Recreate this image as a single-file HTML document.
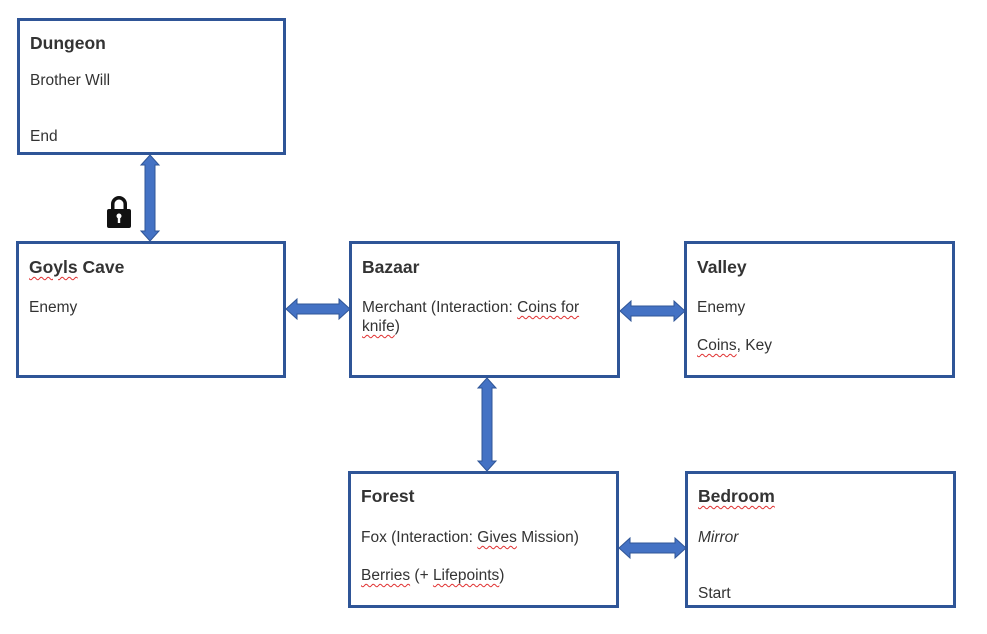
<!DOCTYPE html>
<html><head><style>
body{margin:0;width:987px;height:634px;background:#fff;position:relative;font-family:"Liberation Sans",Arial,sans-serif;color:#333;overflow:hidden}
.b{position:absolute;border:3px solid #2F5597;box-sizing:border-box;background:#fff}
.t{position:absolute;left:10px;font-weight:bold;font-size:17.5px}
.p{position:absolute;left:10px;font-size:15.5px;line-height:19px}
.sq{text-decoration:underline wavy #e03030;text-decoration-thickness:1px;text-underline-offset:3px}
svg{position:absolute;left:0;top:0}
</style></head><body>
<div class="b" style="left:17px;top:18px;width:269px;height:137px"><div class="t" style="top:12px">Dungeon</div><div class="p" style="top:50px">Brother Will</div><div class="p" style="top:106px">End</div></div>
<div class="b" style="left:16px;top:241px;width:270px;height:137px"><div class="t" style="top:13px"><span class="sq">Goyls</span> Cave</div><div class="p" style="top:54px">Enemy</div></div>
<div class="b" style="left:349px;top:241px;width:271px;height:137px"><div class="t" style="top:13px">Bazaar</div><div class="p" style="top:54px">Merchant (Interaction: <span class="sq">Coins for</span><br><span class="sq">knife</span>)</div></div>
<div class="b" style="left:684px;top:241px;width:271px;height:137px"><div class="t" style="top:13px">Valley</div><div class="p" style="top:54px">Enemy</div><div class="p" style="top:92px"><span class="sq">Coins</span>, Key</div></div>
<div class="b" style="left:348px;top:471px;width:271px;height:137px"><div class="t" style="top:12px">Forest</div><div class="p" style="top:54px">Fox (Interaction: <span class="sq">Gives</span> Mission)</div><div class="p" style="top:92px"><span class="sq">Berries</span> (+ <span class="sq">Lifepoints</span>)</div></div>
<div class="b" style="left:685px;top:471px;width:271px;height:137px"><div class="t" style="top:12px"><span class="sq">Bedroom</span></div><div class="p" style="top:54px;font-style:italic">Mirror</div><div class="p" style="top:110px">Start</div></div>
<svg width="987" height="634">
<g fill="#4472C4" stroke="#2F5597" stroke-width="1">
<polygon points="150,155 159,165 155,165 155,231 159,231 150,241 141,231 145,231 145,165 141,165"/>
<polygon points="286,309 297,299 297,304 339,304 339,299 350,309 339,319 339,314 297,314 297,319"/>
<polygon points="620,311 631,301 631,306 674,306 674,301 685,311 674,321 674,316 631,316 631,321"/>
<polygon points="487,378 496,388 492,388 492,461 496,461 487,471 478,461 482,461 482,388 478,388"/>
<polygon points="619,548 630,538 630,543 675,543 675,538 686,548 675,558 675,553 630,553 630,558"/>
</g>
<g fill="#111">
<path d="M111,210 v-6 a8,8 0 0 1 16,0 v6 h-3.5 v-6 a4.5,4.5 0 0 0 -9,0 v6 z"/>
<rect x="107" y="209" width="24" height="19" rx="2"/>
</g>
<circle cx="119" cy="216" r="2.5" fill="#fff"/><rect x="117.8" y="217" width="2.4" height="6" fill="#fff"/>
</svg>
</body></html>
